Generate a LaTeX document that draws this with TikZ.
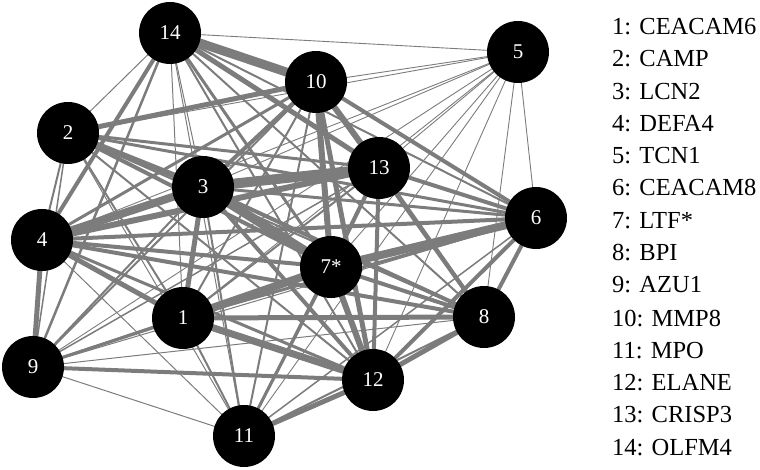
\documentclass[tikz,border=0pt]{standalone}
\usepackage{fontspec}
\setmainfont{Liberation Serif}
\usetikzlibrary{backgrounds}
\definecolor{edgegray}{RGB}{124,124,124}
\tikzset{
  gene/.style={circle, fill=black, draw=none, minimum size=62pt, inner sep=0pt, outer sep=0pt, text=white, font=\fontsize{21}{21}\selectfont},
  link/.style={draw=edgegray, line width=#1pt},
  legendtext/.style={anchor=base west, inner sep=0pt, font=\fontsize{24.5}{24.5}\selectfont}
}
\begin{document}
\begin{tikzpicture}[x=1pt,y=-1pt]
\useasboundingbox (0,0) rectangle (760,470);
\node[gene] (n1)  at (183,318) {1};
\node[gene] (n2)  at (68,133)  {2};
\node[gene] (n3)  at (203,187) {3};
\node[gene] (n4)  at (42,240)  {4};
\node[gene] (n5)  at (518,52)  {5};
\node[gene] (n6)  at (536,218) {6};
\node[gene] (n7)  at (331,267) {7*};
\node[gene] (n8)  at (484,317) {8};
\node[gene] (n9)  at (33,367)  {9};
\node[gene] (n10) at (316,82)  {10};
\node[gene] (n11) at (244,436) {11};
\node[gene] (n12) at (373,380) {12};
\node[gene] (n13) at (379,168) {13};
\node[gene] (n14) at (170,33)  {14};
\begin{pgfonlayer}{background}
\foreach \a/\b/\w in {
 1/2/2, 1/3/5, 1/4/5, 1/5/0.9, 1/6/3, 1/7/8, 1/8/5, 1/9/3, 1/10/2, 1/11/2, 1/12/7, 1/13/2, 1/14/1,
 2/3/6, 2/4/2, 2/5/0.9, 2/6/3, 2/7/4, 2/8/2, 2/9/1.5, 2/10/5, 2/11/1, 2/12/2, 2/13/3, 2/14/1,
 3/4/8, 3/5/0.9, 3/6/3, 3/7/9, 3/8/4, 3/9/2, 3/10/4, 3/11/2, 3/12/4, 3/13/10, 3/14/1,
 4/5/0.9, 4/6/4, 4/7/4, 4/8/4, 4/9/5, 4/10/3, 4/11/1, 4/12/3, 4/13/6, 4/14/4,
 5/6/0.9, 5/7/0.9, 5/8/0.9, 5/9/0.9, 5/10/0.9, 5/11/0.9, 5/12/0.9, 5/13/0.9, 5/14/0.9,
 6/7/8, 6/8/4, 6/9/1, 6/10/4, 6/11/1.5, 6/12/4, 6/13/4, 6/14/2,
 7/8/4, 7/9/2, 7/10/6, 7/11/3, 7/12/6, 7/13/4, 7/14/3,
 8/9/1, 8/10/4, 8/11/2, 8/12/5, 8/13/4, 8/14/2,
 9/10/2, 9/11/1, 9/12/4, 9/13/1.5, 9/14/2.5,
 10/11/2, 10/12/5, 10/13/6, 10/14/9,
 11/12/5, 11/13/2, 11/14/1,
 12/13/4, 12/14/2,
 13/14/5}
 { \draw[link=\w] (n\a.center) -- (n\b.center); }
\end{pgfonlayer}
\node[legendtext] (l1)  at (612,35)  {1: CEACAM6};
\node[legendtext] (l2)  at (612,67)  {2: CAMP};
\node[legendtext] (l3)  at (612,100) {3: LCN2};
\node[legendtext] (l4)  at (612,132) {4: DEFA4};
\node[legendtext] (l5)  at (612,164) {5: TCN1};
\node[legendtext] (l6)  at (612,196) {6: CEACAM8};
\node[legendtext] (l7)  at (612,229) {7: LTF*};
\node[legendtext] (l8)  at (612,261) {8: BPI};
\node[legendtext] (l9)  at (612,293) {9: AZU1};
\node[legendtext] (l10) at (612,326) {10: MMP8};
\node[legendtext] (l11) at (612,358) {11: MPO};
\node[legendtext] (l12) at (612,390) {12: ELANE};
\node[legendtext] (l13) at (612,422) {13: CRISP3};
\node[legendtext] (l14) at (612,455) {14: OLFM4};
\end{tikzpicture}
\end{document}
